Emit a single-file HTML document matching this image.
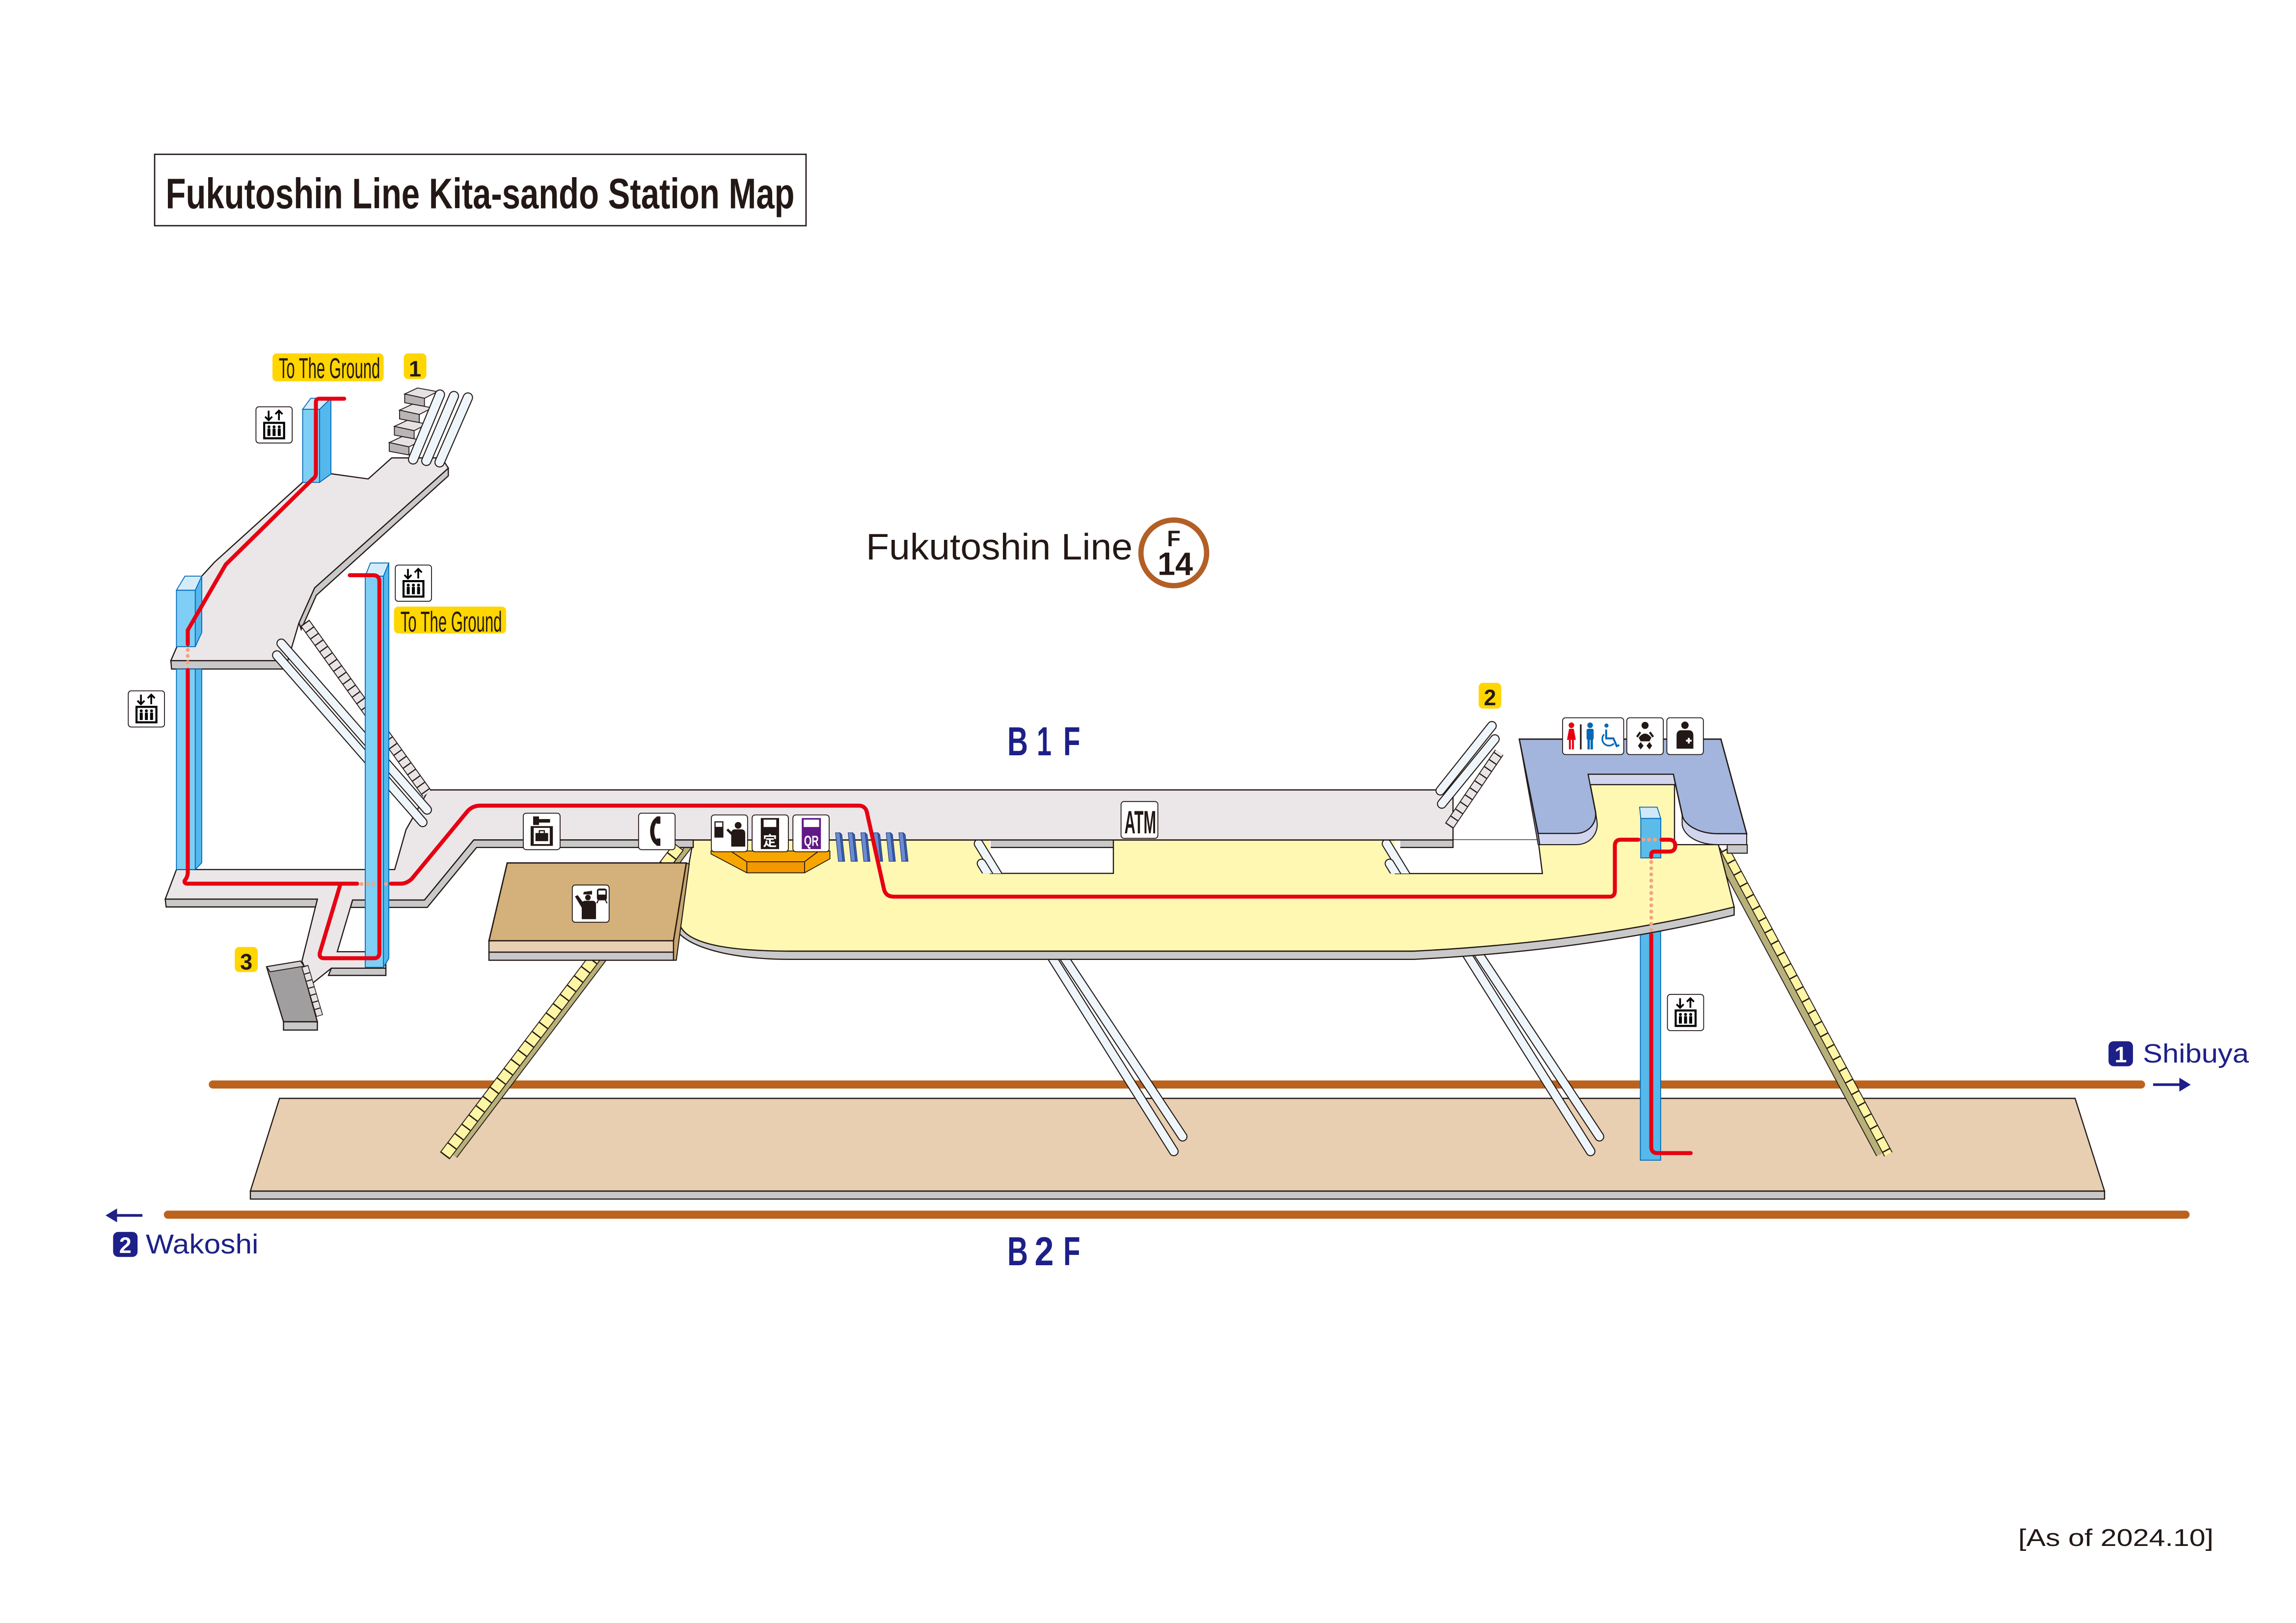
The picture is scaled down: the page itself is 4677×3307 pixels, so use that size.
<!DOCTYPE html>
<html><head><meta charset="utf-8"><title>Fukutoshin Line Kita-sando Station Map</title>
<style>
html,body{margin:0;padding:0;background:#fff;width:4677px;height:3307px;overflow:hidden}
svg{display:block}
</style></head><body>
<svg xmlns="http://www.w3.org/2000/svg" width="4677" height="3307" viewBox="0 0 1559 1102.333" font-family="'Liberation Sans', sans-serif">
<defs>
 <clipPath id="h1c"><rect x="640" y="560" width="130" height="33.2"/></clipPath>
 <clipPath id="h2c"><rect x="920" y="560" width="60" height="33.3"/></clipPath>
</defs>
<rect width="1559" height="1102.333" fill="#fff"/>

<!-- ===== Title ===== -->
<rect x="105" y="104.8" width="442.3" height="48.5" fill="#fff" stroke="#231815" stroke-width="0.9"/>
<text x="112.5" y="141.5" font-family="'Liberation Sans Narrow','Liberation Sans',sans-serif" font-weight="bold" font-size="29" textLength="427" lengthAdjust="spacingAndGlyphs" fill="#231815">Fukutoshin Line Kita-sando Station Map</text>

<text x="588" y="380" font-size="25" textLength="181" lengthAdjust="spacingAndGlyphs" fill="#231815">Fukutoshin Line</text>
<circle cx="797" cy="375.5" r="22.3" fill="#fff" stroke="#b35f26" stroke-width="3.6"/>
<text x="797" y="371" font-size="15" font-weight="bold" text-anchor="middle" fill="#231815">F</text>
<text x="798" y="390.5" font-size="22" font-weight="bold" text-anchor="middle" fill="#231815" textLength="24" lengthAdjust="spacingAndGlyphs">14</text>

<g font-size="27.5" font-weight="bold" fill="#1d2088">
<text x="684" y="513" textLength="14" lengthAdjust="spacingAndGlyphs">B</text>
<text x="704" y="513" textLength="10" lengthAdjust="spacingAndGlyphs">1</text>
<text x="722" y="513" textLength="11.5" lengthAdjust="spacingAndGlyphs">F</text>
<text x="684" y="859.4" textLength="14" lengthAdjust="spacingAndGlyphs">B</text>
<text x="702.5" y="859.4" textLength="13" lengthAdjust="spacingAndGlyphs">2</text>
<text x="722" y="859.4" textLength="11.5" lengthAdjust="spacingAndGlyphs">F</text>
</g>

<!-- ===== B2F platform & tracks ===== -->
<polygon points="189.8,746 1409,746 1429,809 170,809" fill="#e8cfb1" stroke="#231815" stroke-width="0.8"/>
<polygon points="170,809 1429,809 1429,814.4 170,814.4" fill="#c8c8c9" stroke="#231815" stroke-width="0.8"/>
<line x1="144.5" y1="736.6" x2="1453.8" y2="736.6" stroke="#bb631e" stroke-width="5.5" stroke-linecap="round"/>
<line x1="114" y1="825" x2="1484" y2="825" stroke="#bb631e" stroke-width="5.5" stroke-linecap="round"/>

<!-- direction arrows & labels -->
<line x1="78" y1="825.5" x2="96.7" y2="825.5" stroke="#1d2088" stroke-width="1.8"/>
<polygon points="71.7,825.5 79.5,820.8 79.5,830.2" fill="#1d2088"/>
<rect x="76.8" y="836.7" width="16.6" height="17" rx="3.5" fill="#1d2088"/>
<text x="85.1" y="851" font-size="15" font-weight="bold" fill="#fff" text-anchor="middle">2</text>
<text x="99" y="851.4" font-size="18.5" fill="#1d2088" textLength="76.5" lengthAdjust="spacingAndGlyphs">Wakoshi</text>

<line x1="1462" y1="736.7" x2="1481" y2="736.7" stroke="#1d2088" stroke-width="1.8"/>
<polygon points="1487.5,736.7 1479.8,732 1479.8,741.4" fill="#1d2088"/>
<rect x="1431.7" y="707.2" width="16.6" height="17" rx="3.5" fill="#1d2088"/>
<text x="1440" y="721.5" font-size="15" font-weight="bold" fill="#fff" text-anchor="middle">1</text>
<text x="1455" y="721.7" font-size="18" fill="#1d2088" textLength="72" lengthAdjust="spacingAndGlyphs">Shibuya</text>

<!-- ===== Below-floor: stairs / escalators to B2F ===== -->
<line x1="308.5" y1="785" x2="467.5" y2="575" stroke="#231815" stroke-width="4.6"/>
<line x1="308.5" y1="785" x2="467.5" y2="575" stroke="#b7b07a" stroke-width="3.4"/>
<line x1="302" y1="785" x2="461" y2="575" stroke="#231815" stroke-width="8.2"/>
<line x1="302" y1="785" x2="461" y2="575" stroke="#fff6a5" stroke-width="7"/>
<line x1="302" y1="785" x2="461" y2="575" stroke="#231815" stroke-width="7" stroke-dasharray="0.9 7"/>
<line x1="1165.5" y1="577" x2="1276.5" y2="784" stroke="#231815" stroke-width="5.7"/>
<line x1="1165.5" y1="577" x2="1276.5" y2="784" stroke="#b7b07a" stroke-width="4.5"/>
<line x1="1171.2" y1="577" x2="1282.2" y2="784" stroke="#231815" stroke-width="6.4"/>
<line x1="1171.2" y1="577" x2="1282.2" y2="784" stroke="#fff6a5" stroke-width="5.2"/>
<line x1="1171.2" y1="577" x2="1282.2" y2="784" stroke="#231815" stroke-width="5.2" stroke-dasharray="0.9 8"/>
<g stroke-linecap="round">
<line x1="719" y1="645" x2="803" y2="772" stroke="#231815" stroke-width="6.6"/>
<line x1="719" y1="645" x2="803" y2="772" stroke="#eef6fc" stroke-width="5.2"/>
<line x1="711" y1="645" x2="797" y2="782" stroke="#231815" stroke-width="6.6"/>
<line x1="711" y1="645" x2="797" y2="782" stroke="#eef6fc" stroke-width="5.2"/>
<line x1="1002" y1="645" x2="1086" y2="772" stroke="#231815" stroke-width="6.6"/>
<line x1="1002" y1="645" x2="1086" y2="772" stroke="#eef6fc" stroke-width="5.2"/>
<line x1="994" y1="645" x2="1080" y2="782" stroke="#231815" stroke-width="6.6"/>
<line x1="994" y1="645" x2="1080" y2="782" stroke="#eef6fc" stroke-width="5.2"/>
</g>
<rect x="1113.8" y="630" width="13.8" height="158" fill="#55b9eb" stroke="#0068b7" stroke-width="0.6"/>

<!-- ===== B1F yellow concourse ===== -->
<path d="M461,625 C462,640 490,646 537,646 H960 Q1080,640 1177.5,616 V621.5 Q1080,645.5 960,651.6 H537 C488,651.6 460,640 458,628 Z" fill="#c9c9c9" stroke="#231815" stroke-width="0.8"/>
<path d="M470.7,570.5 H1078 V532.9 H1137 V573.7 H1166.8 L1177.5,616 Q1080,640 960,646 H537 C490,646 462,640 461,625 Z" fill="#fff8b3" stroke="#231815" stroke-width="0.8"/>

<!-- holes -->
<rect x="672" y="570.5" width="84" height="22.7" fill="#fff"/>
<rect x="672.7" y="570.5" width="83.3" height="5.1" fill="#c9c9c9"/>
<path d="M672,593.2 H756 V570.5 M672.7,575.6 H756" fill="none" stroke="#231815" stroke-width="0.8"/>
<g clip-path="url(#h1c)" stroke-linecap="round">
<line x1="664.5" y1="573" x2="681" y2="600" stroke="#231815" stroke-width="6.6"/>
<line x1="664.5" y1="573" x2="681" y2="600" stroke="#eef6fc" stroke-width="5.2"/>
<line x1="666.5" y1="586.5" x2="676" y2="602" stroke="#231815" stroke-width="6.6"/>
<line x1="666.5" y1="586.5" x2="676" y2="602" stroke="#eef6fc" stroke-width="5.2"/>
</g>
<polygon points="947,570.5 1044.4,570.5 1047.3,593.3 947,593.3" fill="#fff"/>
<rect x="950.8" y="570.5" width="35.8" height="5.1" fill="#c9c9c9"/>
<path d="M947,593.3 H1047.3 L1044.4,570.5 M950.8,575.6 H986.6 V570.5" fill="none" stroke="#231815" stroke-width="0.8"/>
<g clip-path="url(#h2c)" stroke-linecap="round">
<line x1="941.5" y1="573" x2="958" y2="600" stroke="#231815" stroke-width="6.6"/>
<line x1="941.5" y1="573" x2="958" y2="600" stroke="#eef6fc" stroke-width="5.2"/>
<line x1="943.5" y1="586.5" x2="953" y2="602" stroke="#231815" stroke-width="6.6"/>
<line x1="943.5" y1="586.5" x2="953" y2="602" stroke="#eef6fc" stroke-width="5.2"/>
</g>

<!-- ===== Grey concourse ===== -->
<path d="M112.2,610.7 L119.8,590.6 H268 L275.7,563.5 L291,536.5 H986.6 V570.5 H321.7 L288.2,611.3 H239.4 L229,646.4 H262 V657.6 H225 L212,668 L205,652.8 L215.5,610.7 Z" fill="#ebe7e9" stroke="#231815" stroke-width="0.8"/>
<polygon points="112.2,610.7 215.5,610.7 214.2,616 112.8,616" fill="#c9c9c9" stroke="#231815" stroke-width="0.8"/>
<polygon points="239.4,611.3 288.2,611.3 321.7,570.5 470.7,570.5 470.7,575.6 323.6,575.6 290.1,616.3 238,616.3" fill="#c9c9c9" stroke="#231815" stroke-width="0.8"/>
<polygon points="225,657.6 262,657.6 262,662.5 223,662.5" fill="#c9c9c9" stroke="#231815" stroke-width="0.8"/>
<line x1="451" y1="588" x2="461" y2="575" stroke="#231815" stroke-width="8.2"/>
<line x1="451" y1="588" x2="461" y2="575" stroke="#fff6a5" stroke-width="7"/>
<line x1="451" y1="588" x2="461" y2="575" stroke="#231815" stroke-width="7" stroke-dasharray="0.9 7"/>

<!-- exit 3 stairs -->
<polygon points="181,656.6 204,652.8 215.5,694 192.5,694" fill="#a09e9f" stroke="#231815" stroke-width="0.8"/>
<polygon points="181,656.6 204,652.8 206.5,656.2 183.5,660" fill="#d3d0d1" stroke="#231815" stroke-width="0.6"/>
<line x1="207" y1="656" x2="217" y2="690" stroke="#231815" stroke-width="4.8"/>
<line x1="207" y1="656" x2="217" y2="690" stroke="#e6e3e4" stroke-width="3.8"/>
<line x1="207" y1="656" x2="217" y2="690" stroke="#231815" stroke-width="3.8" stroke-dasharray="0.7 4.3"/>
<polygon points="192.5,694 215.5,694 215.5,699.6 192.5,699.6" fill="#c9c9c9" stroke="#231815" stroke-width="0.8"/>

<!-- ===== Staff room ===== -->
<polygon points="457.3,639 466,586.1 468,587 459.2,652.2 457.3,652.2" fill="#c7a66f" stroke="#231815" stroke-width="0.7"/>
<polygon points="344.4,586.1 466,586.1 457.3,639 332,639" fill="#d4b07a" stroke="#231815" stroke-width="0.9"/>
<rect x="332" y="639" width="125.3" height="7.7" fill="#e8d1b3" stroke="#231815" stroke-width="0.8"/>
<rect x="332" y="646.7" width="125.3" height="5.5" fill="#c8c8c8" stroke="#231815" stroke-width="0.8"/>

<!-- ===== Toilet block ===== -->
<polygon points="1031.6,502 1033.4,502 1046,573.7 1044.4,573.7" fill="#7f8fbf" stroke="#231815" stroke-width="0.6"/>
<path d="M1031.6,502 H1168.5 L1186,566.3 H1166.8 C1153,566.3 1143,560 1142.2,553.3 L1136.2,525.9 H1078.4 L1083.5,552 C1084,560 1078,566.1 1069.9,566.1 H1044.4 Z" fill="#a3b5dc" stroke="#231815" stroke-width="0.9"/>
<path d="M1078.4,525.9 H1136.2 L1137.6,532.9 H1079.7 Z" fill="#d1d6ee" stroke="#231815" stroke-width="0.7"/>
<path d="M1044.4,566.1 H1069.9 C1078,566.1 1084,560 1083.5,552 L1084.5,559 C1085,567 1079,573.7 1070,573.7 H1045.5 Z" fill="#d1d6ee" stroke="#231815" stroke-width="0.7"/>
<path d="M1142.2,553.3 C1143,560 1153,566.3 1166.8,566.3 H1186 V573.7 H1166.8 C1152,573.7 1143,567 1142.2,560 Z" fill="#d1d6ee" stroke="#231815" stroke-width="0.7"/>
<rect x="1172.8" y="573.7" width="13.6" height="5.8" fill="#c9c9c9" stroke="#231815" stroke-width="0.7"/>

<polygon points="1113.3,548.2 1125.2,548.2 1127.7,555.9 1114.1,555.9" fill="#cfe9f9" stroke="#0068b7" stroke-width="0.6"/>
<rect x="1114.1" y="555.9" width="13.6" height="26.8" fill="#5bbcea" stroke="#0068b7" stroke-width="0.6"/>

<!-- ===== Upper walkway ===== -->
<polygon points="116,448.7 195.4,448.7 194.5,454.4 116.5,454.4" fill="#c9c9c9" stroke="#231815" stroke-width="0.8"/>
<polygon points="203,423 213.6,399.3 304.4,318 304.4,323.2 214.8,404.3 204.5,427.5" fill="#c9c9c9" stroke="#231815" stroke-width="0.8"/>
<path d="M205.5,327.6 L145.7,381.8 L137,391.3 L119.8,440 L116,448.7 H195.4 L203,423 L213.6,399.3 L304.4,318 L300,311 H266 L250,325.3 L225,321.8 Z" fill="#ebe7e9" stroke="#231815" stroke-width="0.8"/>

<g stroke="#231815" stroke-width="0.6">
<polygon points="274.8,267.6 283.5,263.5 297,266 288.2,270.5" fill="#e6e2e4"/>
<polygon points="274.8,267.6 288.2,270.5 288.2,276 274.8,273.5" fill="#b9b5b7"/>
<polygon points="271.3,278.6 280,274.5 293.5,277 284.7,281.5" fill="#e6e2e4"/>
<polygon points="271.3,278.6 284.7,281.5 284.7,287 271.3,284.5" fill="#b9b5b7"/>
<polygon points="267.8,289.6 276.5,285.5 290,288 281.2,292.5" fill="#e6e2e4"/>
<polygon points="267.8,289.6 281.2,292.5 281.2,298 267.8,295.5" fill="#b9b5b7"/>
<polygon points="264.3,300.6 273,296.5 286.5,299 277.7,303.5" fill="#e6e2e4"/>
<polygon points="264.3,300.6 277.7,303.5 277.7,309 264.3,306.5" fill="#b9b5b7"/>
</g>
<g stroke-linecap="round">
<line x1="317.7" y1="270" x2="298.5" y2="314" stroke="#231815" stroke-width="7"/>
<line x1="317.7" y1="270" x2="298.5" y2="314" stroke="#eef6fc" stroke-width="5.6"/>
<line x1="308.2" y1="269" x2="289.5" y2="313" stroke="#231815" stroke-width="7"/>
<line x1="308.2" y1="269" x2="289.5" y2="313" stroke="#eef6fc" stroke-width="5.6"/>
<line x1="298.7" y1="268" x2="280.5" y2="312" stroke="#231815" stroke-width="7"/>
<line x1="298.7" y1="268" x2="280.5" y2="312" stroke="#eef6fc" stroke-width="5.6"/>
</g>

<line x1="207" y1="423" x2="290" y2="539" stroke="#231815" stroke-width="7.4"/>
<line x1="207" y1="423" x2="290" y2="539" stroke="#e9e5e7" stroke-width="6.2"/>
<line x1="207" y1="423" x2="290" y2="539" stroke="#231815" stroke-width="6.2" stroke-dasharray="0.8 4.6"/>
<g stroke-linecap="round">
<line x1="191" y1="437" x2="290" y2="550" stroke="#231815" stroke-width="6.6"/>
<line x1="191" y1="437" x2="290" y2="550" stroke="#eef6fc" stroke-width="5.2"/>
<line x1="188" y1="445" x2="287" y2="558.5" stroke="#231815" stroke-width="6.6"/>
<line x1="188" y1="445" x2="287" y2="558.5" stroke="#eef6fc" stroke-width="5.2"/>
</g>

<line x1="984" y1="561" x2="1018" y2="511" stroke="#231815" stroke-width="6.8"/>
<line x1="984" y1="561" x2="1018" y2="511" stroke="#e9e5e7" stroke-width="5.6"/>
<line x1="984" y1="561" x2="1018" y2="511" stroke="#231815" stroke-width="5.6" stroke-dasharray="0.8 5"/>
<g stroke-linecap="round">
<line x1="978" y1="537" x2="1013" y2="493" stroke="#231815" stroke-width="6.6"/>
<line x1="978" y1="537" x2="1013" y2="493" stroke="#eef6fc" stroke-width="5.2"/>
<line x1="979" y1="546" x2="1015" y2="502" stroke="#231815" stroke-width="6.6"/>
<line x1="979" y1="546" x2="1015" y2="502" stroke="#eef6fc" stroke-width="5.2"/>
</g>

<!-- ===== Elevators ===== -->
<g stroke="#0068b7" stroke-width="0.6">
<polygon points="205.5,278 211,270.5 224.7,270.5 217,278" fill="#d4ecfa"/>
<rect x="205.5" y="278" width="11.5" height="49.6" fill="#7fcef5"/>
<polygon points="217,278 224.7,270.5 224.7,322 217,327.6" fill="#54b8ec"/>
<polygon points="119.8,400.9 125.6,391.3 137,391.3 132.6,400.9" fill="#d4ecfa"/>
<rect x="119.8" y="400.9" width="12.8" height="38.3" fill="#7fcef5"/>
<polygon points="132.6,400.9 137,391.3 137,429.6 132.6,439.2" fill="#54b8ec"/>
<rect x="119.8" y="454.4" width="12.8" height="136.2" fill="#7fcef5"/>
<polygon points="132.6,454.4 137,454.4 137,586 132.6,590.6" fill="#54b8ec"/>
<polygon points="248,391.3 251.5,382.4 264,382.4 260.4,391.3" fill="#d4ecfa"/>
<rect x="248" y="391.3" width="12.4" height="265.7" fill="#7fcef5"/>
<polygon points="260.4,391.3 264,382.4 264,651 260.4,657" fill="#54b8ec"/>
</g>

<!-- ===== Fare gates, counter ===== -->
<g stroke="#1f3c88" stroke-width="0.4">
<polygon points="567.3,565.6 570.3,565.6 572.3,585 569.3,585" fill="#6a8bd0"/><polygon points="570.3,565.6 571.6,566.8 573.6,585 572.3,585" fill="#3f5faa"/>
<polygon points="575.9,565.6 578.9,565.6 580.9,585 577.9,585" fill="#6a8bd0"/><polygon points="578.9,565.6 580.2,566.8 582.2,585 580.9,585" fill="#3f5faa"/>
<polygon points="584.5,565.6 587.5,565.6 589.5,585 586.5,585" fill="#6a8bd0"/><polygon points="587.5,565.6 588.8,566.8 590.8,585 589.5,585" fill="#3f5faa"/>
<polygon points="593.1,565.6 596.1,565.6 598.1,585 595.1,585" fill="#6a8bd0"/><polygon points="596.1,565.6 597.4,566.8 599.4,585 598.1,585" fill="#3f5faa"/>
<polygon points="601.7,565.6 604.7,565.6 606.7,585 603.7,585" fill="#6a8bd0"/><polygon points="604.7,565.6 606,566.8 608,585 606.7,585" fill="#3f5faa"/>
<polygon points="610.3,565.6 613.3,565.6 615.3,585 612.3,585" fill="#6a8bd0"/><polygon points="613.3,565.6 614.6,566.8 616.6,585 615.3,585" fill="#3f5faa"/>
</g>
<polygon points="482.8,578 563.5,578 563.5,583.3 546.3,592.8 507.1,592.8 482.8,580" fill="#f7a600" stroke="#231815" stroke-width="0.6"/>
<polygon points="507.1,585.3 546.3,585.3 546.3,592.8 507.1,592.8" fill="#f39800" stroke="#231815" stroke-width="0.6"/>
<path d="M496,578 L507.1,585.3 M556,578 L546.3,585.3" stroke="#231815" stroke-width="0.6"/>

<!-- ===== Red route ===== -->
<g fill="none" stroke="#e60012" stroke-width="2.7" stroke-linecap="round" stroke-linejoin="round">
<path d="M233.7,270.8 H216.8 Q214.5,270.8 214.5,273.2 V321.5 Q214.5,324 212.3,325.4 L153.3,383.4 L127.5,428 V437.6"/>
<path d="M127.5,455 V592.5 Q127.5,594.5 126.5,596.5 L125.3,598.3 Q125,600.2 127.5,600.2 H242.5"/>
<path d="M265.5,600.2 H272 Q276,600.2 279.5,597 L317,551.5 Q320.5,547.2 326,547.2 H583 Q587.8,547.2 588.7,552 L600.2,603.8 Q601.3,609 607,609 H1093 Q1096.5,609 1096.5,605 V574.5 Q1096.5,570.3 1100.5,570.3 H1112.5"/>
<path d="M1128.2,570.3 H1133 Q1137.5,570.3 1137.5,574.4 Q1137.5,578.4 1133,578.4 H1123.3 Q1121.2,578.4 1121.2,580.5 V582"/>
<path d="M1121.2,635 V779 Q1121.2,783.2 1125.5,783.2 H1148"/>
<path d="M231,601 L217.2,647 Q216.4,650.8 220,650.8 H254 Q257.6,650.8 257.6,647 V395 Q257.6,390.7 253.5,390.7 H237.5"/>
</g>
<g fill="#f3a37f">
<circle cx="127.5" cy="441.4" r="1.3"/><circle cx="127.5" cy="445.5" r="1.3"/><circle cx="127.5" cy="449.7" r="1.3"/>
<circle cx="245.5" cy="600.4" r="1.3"/><circle cx="249.5" cy="600.4" r="1.3"/><circle cx="253.5" cy="600.4" r="1.3"/><circle cx="262" cy="600.4" r="1.3"/>
<circle cx="1115.8" cy="570.3" r="1.3"/><circle cx="1119.8" cy="570.3" r="1.3"/><circle cx="1123.8" cy="570.3" r="1.3"/>
<circle cx="1121.2" cy="585.5" r="1.3"/><circle cx="1121.2" cy="589.7" r="1.3"/><circle cx="1121.2" cy="593.9" r="1.3"/><circle cx="1121.2" cy="598.1" r="1.3"/><circle cx="1121.2" cy="602.3" r="1.3"/><circle cx="1121.2" cy="606.5" r="1.3"/><circle cx="1121.2" cy="610.7" r="1.3"/><circle cx="1121.2" cy="614.9" r="1.3"/><circle cx="1121.2" cy="619.1" r="1.3"/><circle cx="1121.2" cy="623.3" r="1.3"/><circle cx="1121.2" cy="627.5" r="1.3"/><circle cx="1121.2" cy="631.7" r="1.3"/>
</g>

<!-- ===== Icons ===== -->
<g transform="translate(173.4,275.9)">
<rect x="0.4" y="0.4" width="24.6" height="24.6" rx="2" fill="#fff" stroke="#231815" stroke-width="0.6"/>
<path d="M9,3 V9.5 M6.6,7.1 L9,9.5 L11.4,7.1 M16,9.5 V3 M13.6,5.4 L16,3 L18.4,5.4" stroke="#000" stroke-width="1.2" fill="none"/>
<rect x="6" y="11.3" width="13.5" height="10.5" fill="none" stroke="#000" stroke-width="1.4"/>
<g fill="#000"><circle cx="9.2" cy="14" r="1"/><circle cx="12.7" cy="14" r="1"/><circle cx="16.2" cy="14" r="1"/><rect x="8.2" y="15.2" width="2" height="5"/><rect x="11.7" y="15.2" width="2" height="5"/><rect x="15.2" y="15.2" width="2" height="5"/></g>
</g>
<g transform="translate(268,383.4)">
<rect x="0.4" y="0.4" width="24.6" height="24.6" rx="2" fill="#fff" stroke="#231815" stroke-width="0.6"/>
<path d="M9,3 V9.5 M6.6,7.1 L9,9.5 L11.4,7.1 M16,9.5 V3 M13.6,5.4 L16,3 L18.4,5.4" stroke="#000" stroke-width="1.2" fill="none"/>
<rect x="6" y="11.3" width="13.5" height="10.5" fill="none" stroke="#000" stroke-width="1.4"/>
<g fill="#000"><circle cx="9.2" cy="14" r="1"/><circle cx="12.7" cy="14" r="1"/><circle cx="16.2" cy="14" r="1"/><rect x="8.2" y="15.2" width="2" height="5"/><rect x="11.7" y="15.2" width="2" height="5"/><rect x="15.2" y="15.2" width="2" height="5"/></g>
</g>
<g transform="translate(86.7,468.8)">
<rect x="0.4" y="0.4" width="24.6" height="24.6" rx="2" fill="#fff" stroke="#231815" stroke-width="0.6"/>
<path d="M9,3 V9.5 M6.6,7.1 L9,9.5 L11.4,7.1 M16,9.5 V3 M13.6,5.4 L16,3 L18.4,5.4" stroke="#000" stroke-width="1.2" fill="none"/>
<rect x="6" y="11.3" width="13.5" height="10.5" fill="none" stroke="#000" stroke-width="1.4"/>
<g fill="#000"><circle cx="9.2" cy="14" r="1"/><circle cx="12.7" cy="14" r="1"/><circle cx="16.2" cy="14" r="1"/><rect x="8.2" y="15.2" width="2" height="5"/><rect x="11.7" y="15.2" width="2" height="5"/><rect x="15.2" y="15.2" width="2" height="5"/></g>
</g>
<g transform="translate(1131.8,675)">
<rect x="0.4" y="0.4" width="24.6" height="24.6" rx="2" fill="#fff" stroke="#231815" stroke-width="0.6"/>
<path d="M9,3 V9.5 M6.6,7.1 L9,9.5 L11.4,7.1 M16,9.5 V3 M13.6,5.4 L16,3 L18.4,5.4" stroke="#000" stroke-width="1.2" fill="none"/>
<rect x="6" y="11.3" width="13.5" height="10.5" fill="none" stroke="#000" stroke-width="1.4"/>
<g fill="#000"><circle cx="9.2" cy="14" r="1"/><circle cx="12.7" cy="14" r="1"/><circle cx="16.2" cy="14" r="1"/><rect x="8.2" y="15.2" width="2" height="5"/><rect x="11.7" y="15.2" width="2" height="5"/><rect x="15.2" y="15.2" width="2" height="5"/></g>
</g>

<rect x="355.3" y="552.3" width="25" height="24.8" rx="2" fill="#fff" stroke="#231815" stroke-width="0.6"/>
<rect x="362" y="554.5" width="4" height="5.8" fill="#231815"/>
<rect x="365.5" y="556.3" width="8" height="2.4" fill="#231815"/>
<rect x="360.3" y="561.1" width="15.1" height="13.4" fill="#231815"/>
<rect x="362.4" y="562.3" width="10.9" height="11" fill="#fff"/>
<rect x="363.6" y="565.8" width="8.6" height="5.5" fill="#231815"/>
<rect x="366.2" y="564.2" width="3.4" height="2" fill="none" stroke="#231815" stroke-width="0.8"/>
<rect x="433.6" y="552.3" width="24.8" height="24.8" rx="2" fill="#fff" stroke="#231815" stroke-width="0.6"/>
<path d="M446.8,556 C441.5,558.5 441.5,570.5 446.8,573" stroke="#231815" stroke-width="2.8" fill="none"/>
<rect x="445.8" y="554.5" width="2.6" height="5" fill="#231815"/>
<rect x="445.8" y="569.5" width="2.6" height="5" fill="#231815"/>
<rect x="483" y="553.5" width="24.6" height="25" rx="2" fill="#fff" stroke="#231815" stroke-width="0.6"/>
<rect x="485.1" y="557.8" width="6.1" height="11.1" fill="#231815"/>
<rect x="485.9" y="558.6" width="4.5" height="3" fill="#fff"/>
<circle cx="501.2" cy="560.6" r="2.3" fill="#231815"/>
<path d="M496.5,575 V566 Q496.5,563.3 499.2,563.3 H503.3 Q506,563.3 506,566 V575 Z" fill="#231815"/>
<path d="M497.5,567 L493.8,563.3" stroke="#231815" stroke-width="1.6"/>
<rect x="510.7" y="553.5" width="24.6" height="25" rx="2" fill="#fff" stroke="#231815" stroke-width="0.6"/>
<rect x="516.6" y="555.6" width="12.4" height="21.1" fill="#231815"/>
<rect x="518.5" y="556.7" width="8.6" height="5" fill="#fff"/>
<text x="522.8" y="574.5" font-size="9.5" fill="#fff" text-anchor="middle" font-family="'Noto Sans CJK JP','Noto Sans CJK SC',sans-serif" font-weight="bold">定</text>
<rect x="538.4" y="553.5" width="24.6" height="25" rx="2" fill="#fff" stroke="#231815" stroke-width="0.6"/>
<rect x="544.4" y="555.6" width="13" height="21.1" fill="#601986"/>
<rect x="545.7" y="556.7" width="10.5" height="5" fill="#fff"/>
<text x="550.9" y="574.5" font-size="10" fill="#fff" text-anchor="middle" font-weight="bold" textLength="10" lengthAdjust="spacingAndGlyphs">QR</text>
<rect x="761.2" y="544.4" width="25" height="25" rx="2" fill="#fff" stroke="#231815" stroke-width="0.6"/>
<text x="763.5" y="566" font-size="22" font-weight="bold" fill="#231815" textLength="21.5" lengthAdjust="spacingAndGlyphs">ATM</text>
<rect x="388.6" y="601.1" width="25" height="25.3" rx="2" fill="#fff" stroke="#231815" stroke-width="0.6"/>
<path d="M396,607.4 L396.4,605.8 L402,605 L402,607.6 Z" fill="#231815"/>
<circle cx="399.2" cy="609.6" r="1.9" fill="#231815"/>
<path d="M395,624.3 V614.4 Q395,611.8 397.5,611.8 H402.2 Q404.7,611.8 404.7,614.4 V624.3 Z" fill="#231815"/>
<path d="M395,616.5 L390.4,608.8 L392.3,608 L396.4,613.6 Z" fill="#231815"/>
<rect x="405.3" y="603.5" width="6.8" height="8" rx="1.5" fill="#231815"/>
<rect x="406.3" y="604.8" width="4.8" height="2.8" fill="#fff"/>
<path d="M406.3,611.3 L405.2,613.5 M411.1,611.3 L412.2,613.5" stroke="#231815" stroke-width="0.8"/>
<rect x="1061" y="487.5" width="41.5" height="25" rx="2" fill="#fff" stroke="#231815" stroke-width="0.6"/>
<circle cx="1067" cy="492.6" r="1.9" fill="#e60012"/>
<path d="M1064,502.5 L1065.4,495 H1068.6 L1070,502.5 Z" fill="#e60012"/>
<rect x="1065.3" y="502" width="1.3" height="7" fill="#e60012"/>
<rect x="1067.4" y="502" width="1.3" height="7" fill="#e60012"/>
<rect x="1072.8" y="492" width="1.1" height="17" fill="#231815"/>
<circle cx="1079.7" cy="492.6" r="1.9" fill="#0068b7"/>
<rect x="1077.3" y="495" width="4.8" height="7.5" rx="1" fill="#0068b7"/>
<rect x="1077.9" y="501" width="1.6" height="8" fill="#0068b7"/>
<rect x="1080" y="501" width="1.6" height="8" fill="#0068b7"/>
<circle cx="1090.8" cy="492.8" r="1.4" fill="#0068b7"/>
<path d="M1090.6,495.5 V501.5 H1095.5 L1097.8,506.8 L1099.5,506" stroke="#0068b7" stroke-width="1.3" fill="none"/>
<path d="M1089.2,498.8 A4.3,4.3 0 1 0 1095.8,505" stroke="#0068b7" stroke-width="1.1" fill="none"/>
<rect x="1104.6" y="487.5" width="24.8" height="25" rx="2" fill="#fff" stroke="#231815" stroke-width="0.6"/>
<circle cx="1117" cy="492.7" r="2.4" fill="#231815"/>
<path d="M1112.7,501 Q1117,495.5 1121.3,501 L1120,503.5 H1114 Z" fill="#231815"/>
<path d="M1111.5,500.5 L1113.8,497.3 M1122.5,500.5 L1120.2,497.3" stroke="#231815" stroke-width="1.4"/>
<path d="M1114,504 L1116,506.5 L1114,509 L1112.2,506.5 Z M1120,504 L1121.8,506.5 L1120,509 L1118,506.5 Z" fill="#231815"/>
<rect x="1131.8" y="487.5" width="24.8" height="25" rx="2" fill="#fff" stroke="#231815" stroke-width="0.6"/>
<circle cx="1144.1" cy="492.6" r="2.5" fill="#231815"/>
<path d="M1138.4,508.5 V499.5 Q1138.4,496 1141.5,496 H1146.7 Q1149.8,496 1149.8,499.5 V508.5 Z" fill="#231815"/>
<rect x="1144.8" y="502.4" width="3.8" height="1.3" fill="#fff"/>
<rect x="1146.05" y="501.15" width="1.3" height="3.8" fill="#fff"/>

<!-- ===== Labels ===== -->
<rect x="185" y="240" width="75.5" height="19" rx="3" fill="#ffd600"/>
<text x="189.3" y="256.8" font-size="19.5" font-family="'Liberation Sans Narrow','Liberation Sans',sans-serif" fill="#231815" textLength="68.8" lengthAdjust="spacingAndGlyphs">To The Ground</text>
<rect x="274.2" y="240" width="15.3" height="17.5" rx="3" fill="#ffd600"/>
<text x="281.8" y="255.6" font-size="15" font-weight="bold" fill="#231815" text-anchor="middle">1</text>
<rect x="267.5" y="412" width="76.2" height="18.2" rx="3" fill="#ffd600"/>
<text x="271.9" y="429" font-size="19.5" font-family="'Liberation Sans Narrow','Liberation Sans',sans-serif" fill="#231815" textLength="68.9" lengthAdjust="spacingAndGlyphs">To The Ground</text>
<rect x="159.4" y="643.2" width="15.6" height="17" rx="3" fill="#ffd600"/>
<text x="167.2" y="658.5" font-size="15" font-weight="bold" fill="#231815" text-anchor="middle">3</text>
<rect x="1004" y="463.8" width="15.4" height="17.5" rx="3" fill="#ffd600"/>
<text x="1011.7" y="479" font-size="15" font-weight="bold" fill="#231815" text-anchor="middle">2</text>

<text x="1370.4" y="1050" font-size="16.5" fill="#231815" textLength="132.6" lengthAdjust="spacingAndGlyphs">[As of 2024.10]</text>
</svg>
</body></html>
